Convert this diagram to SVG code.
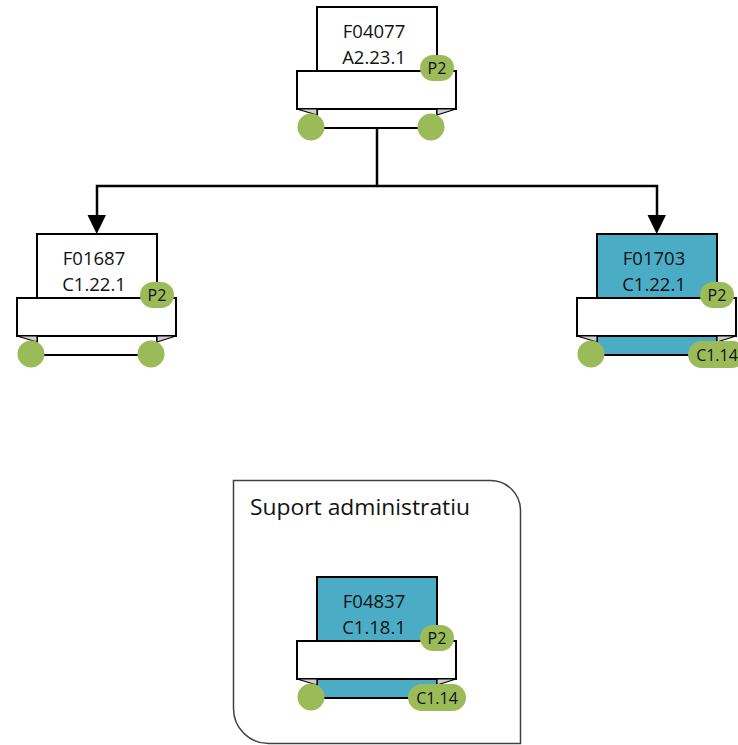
<svg xmlns="http://www.w3.org/2000/svg" width="738" height="745" viewBox="0 0 738 745">
<style>
.box{stroke:#000;stroke-width:2}
.w{fill:#fff}
.t{fill:#4BACC6}
.ban{fill:#fff;stroke:#000;stroke-width:2}
.fold{fill:#d0d0d0;stroke:#000;stroke-width:1.2}
.dot{fill:#9BBB59}
.lbl{font-family:"Open Sans","Liberation Sans",sans-serif;font-size:18.5px;fill:#111;text-anchor:middle}
.bt{font-family:"Open Sans","Liberation Sans",sans-serif;font-size:16px;fill:#111;text-anchor:middle}
.conn{fill:none;stroke:#000;stroke-width:2.5}
.ah{fill:#000}
</style>
<path d="M233.5,480.5 H490.5 A30,30 0 0 1 520.5,510.5 V743.5 H268.5 A35,35 0 0 1 233.5,708.5 Z" fill="#fff" stroke="#404040" stroke-width="1.5"/>
<text x="250" y="515" font-family="'Open Sans','Liberation Sans',sans-serif" font-size="22" fill="#111" textLength="220" lengthAdjust="spacingAndGlyphs">Suport administratiu</text>
<g id="connectors">
<path class="conn" d="M377,128 V186 H97 V216"/>
<path class="conn" d="M377,186 H657 V216"/>
<path class="ah" d="M87.5,215 L106,215 L96.7,234 Z"/>
<path class="ah" d="M647.5,215 L666,215 L656.7,234 Z"/>
</g>
<g id="node-F04077" transform="translate(317,7)">
<rect class="box w" x="0" y="0" width="120" height="121"/>
<text class="lbl" x="57" y="31">F04077</text>
<text class="lbl" x="57" y="57">A2.23.1</text>
<rect class="ban" x="-20" y="64" width="159" height="38"/>
<path class="fold" d="M-20,102 L0,102 L0,108 Z"/>
<path class="fold" d="M120,102 L139,102 L120,108 Z"/>
<rect class="dot" x="103" y="48" width="34" height="26" rx="13"/>
<text class="bt" x="120" y="67">P2</text>
<circle class="dot" cx="-6" cy="120" r="13.5"/>
<circle class="dot" cx="114" cy="120" r="13.5"/>
</g>
<g id="node-F01687" transform="translate(37,234)">
<rect class="box w" x="0" y="0" width="120" height="121"/>
<text class="lbl" x="57" y="31">F01687</text>
<text class="lbl" x="57" y="57">C1.22.1</text>
<rect class="ban" x="-20" y="64" width="159" height="38"/>
<path class="fold" d="M-20,102 L0,102 L0,108 Z"/>
<path class="fold" d="M120,102 L139,102 L120,108 Z"/>
<rect class="dot" x="103" y="48" width="34" height="26" rx="13"/>
<text class="bt" x="120" y="67">P2</text>
<circle class="dot" cx="-6" cy="120" r="13.5"/>
<circle class="dot" cx="114" cy="120" r="13.5"/>
</g>
<g id="node-F01703" transform="translate(597,234)">
<rect class="box t" x="0" y="0" width="120" height="121"/>
<text class="lbl" x="57" y="31">F01703</text>
<text class="lbl" x="57" y="57">C1.22.1</text>
<rect class="ban" x="-20" y="64" width="159" height="38"/>
<path class="fold" d="M-20,102 L0,102 L0,108 Z"/>
<path class="fold" d="M120,102 L139,102 L120,108 Z"/>
<rect class="dot" x="103" y="48" width="34" height="26" rx="13"/>
<text class="bt" x="120" y="67">P2</text>
<circle class="dot" cx="-6" cy="120" r="13.5"/>
<rect class="dot" x="91" y="107" width="58" height="27" rx="13.5"/>
<text class="bt" x="120" y="126.5">C1.14</text>
</g>
<g id="node-F04837" transform="translate(317,577)">
<rect class="box t" x="0" y="0" width="120" height="121"/>
<text class="lbl" x="57" y="31">F04837</text>
<text class="lbl" x="57" y="57">C1.18.1</text>
<rect class="ban" x="-20" y="64" width="159" height="38"/>
<path class="fold" d="M-20,102 L0,102 L0,108 Z"/>
<path class="fold" d="M120,102 L139,102 L120,108 Z"/>
<rect class="dot" x="103" y="48" width="34" height="26" rx="13"/>
<text class="bt" x="120" y="67">P2</text>
<circle class="dot" cx="-6" cy="120" r="13.5"/>
<rect class="dot" x="91" y="107" width="58" height="27" rx="13.5"/>
<text class="bt" x="120" y="126.5">C1.14</text>
</g>
</svg>
